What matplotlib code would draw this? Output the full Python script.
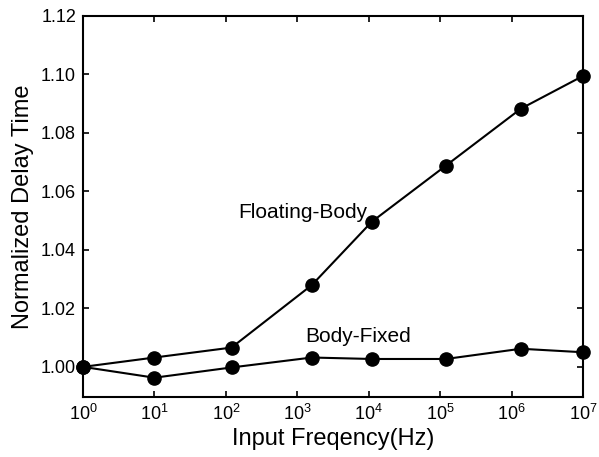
import matplotlib
matplotlib.use('Agg')
import matplotlib.pyplot as plt

plt.rcParams['font.family'] = ['Liberation Sans', 'DejaVu Sans']
plt.rcParams['mathtext.default'] = 'regular'

# input frequency (Hz) of each measured point
freq = [1, 10, 120, 1600, 1.1e4, 1.2e5, 1.35e6, 1e7]
floating_body = [1.000, 1.0032, 1.0066, 1.028, 1.0496, 1.0688, 1.0883, 1.0995]
body_fixed = [1.000, 0.9963, 0.9998, 1.0032, 1.0027, 1.0027, 1.0062, 1.005]

yticks = [1.00, 1.02, 1.04, 1.06, 1.08, 1.10, 1.12]
xticks = [1e0, 1e1, 1e2, 1e3, 1e4, 1e5, 1e6, 1e7]

fig = plt.figure(figsize=(5.99, 4.57), dpi=100)
ax = fig.add_axes([0.1386, 0.1313, 0.8347, 0.8337])

style = dict(color='black', lw=1.5, marker='o', markersize=9.5, clip_on=False, zorder=3)
ax.plot(freq, floating_body, **style)
ax.plot(freq, body_fixed, **style)

ax.set_xscale('log')
ax.set_xlim(1, 1e7)
ax.set_ylim(0.9897, 1.12)
ax.set_xticks(xticks)
ax.set_yticks(yticks)
ax.set_yticklabels(['%.2f' % v for v in yticks])
ax.minorticks_off()
ax.tick_params(direction='in', length=4, width=1.2, top=True, right=True,
               labelsize=13, pad=5)
for s in ax.spines.values():
  s.set_linewidth(1.5)

ax.set_xlabel('Input Freqency(Hz)', fontsize=17, labelpad=3)
ax.set_ylabel('Normalized Delay Time', fontsize=17, labelpad=5)

ax.text(148, 1.0527, 'Floating-Body', fontsize=15, ha='left', va='center')
ax.text(1282, 1.0103, 'Body-Fixed', fontsize=15, ha='left', va='center')

fig.savefig('out.png', dpi=100)
